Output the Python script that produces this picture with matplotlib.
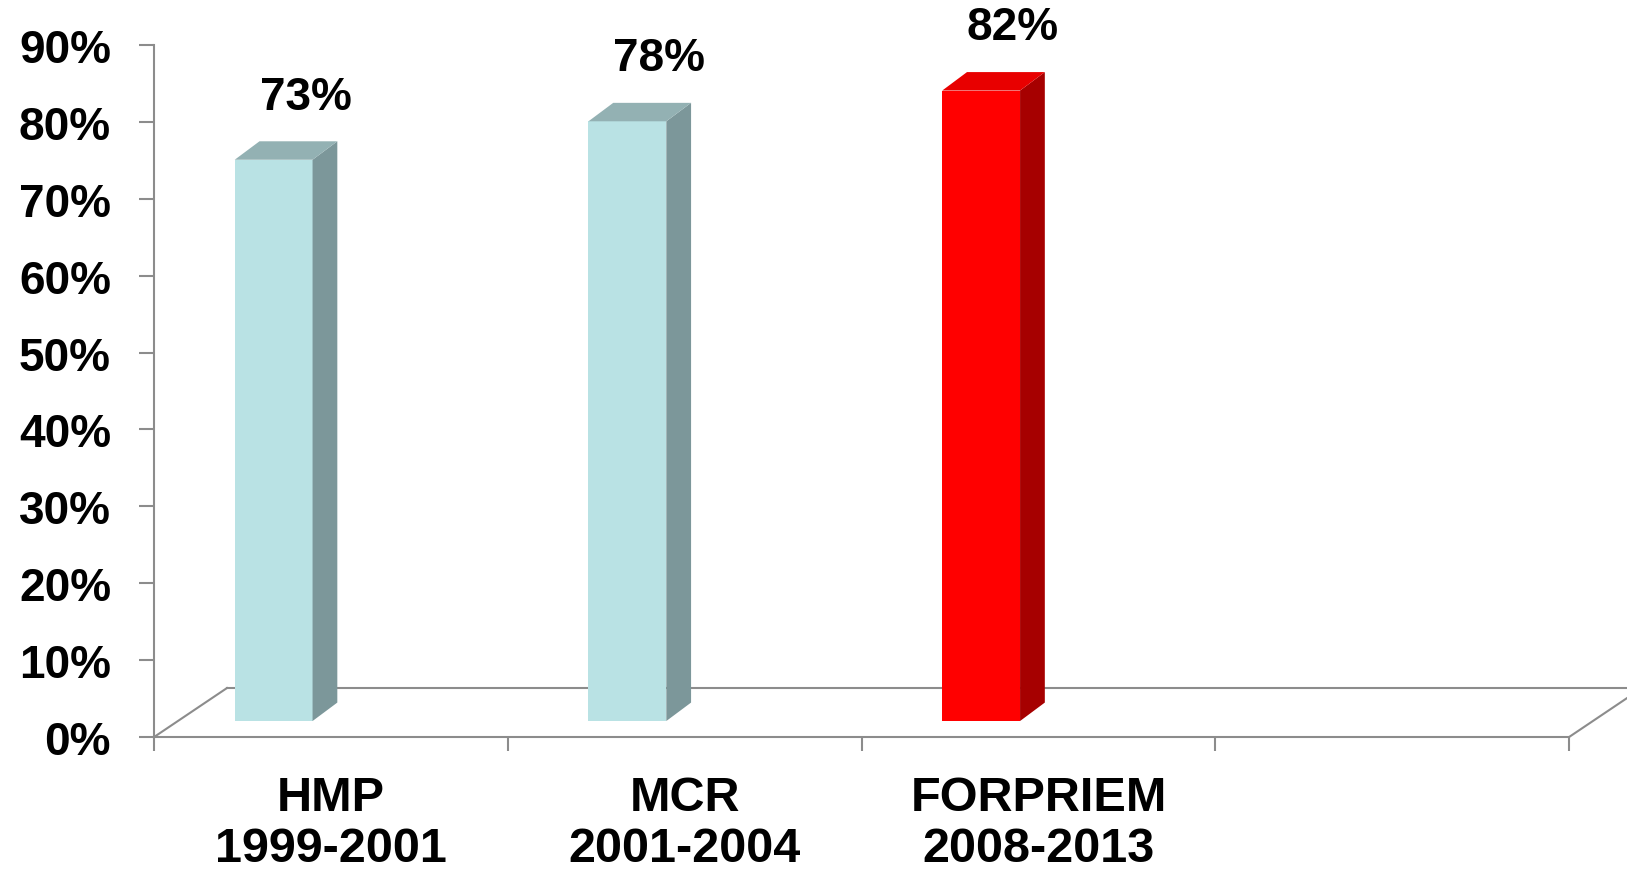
import matplotlib
matplotlib.use('Agg')
import matplotlib.pyplot as plt

# Chart data
categories = ['HMP\n1999-2001', 'MCR\n2001-2004', 'FORPRIEM\n2008-2013', '']
values = [73, 78, 82]
value_labels = ['73%', '78%', '82%']
y_ticks = [0, 10, 20, 30, 40, 50, 60, 70, 80, 90]
y_tick_labels = ['0%', '10%', '20%', '30%', '40%', '50%', '60%', '70%', '80%', '90%']

# Face colours of each bar (front, side, top)
front_colors = ['#B9E2E4', '#B9E2E4', '#FF0000']
side_colors = ['#7C979A', '#7C979A', '#A60000']
top_colors = ['#93B1B3', '#93B1B3', '#E80000']

# Pseudo-3D geometry (in data units)
BAR_OFFSET = 0.228   # left edge of bar front inside its category slot
BAR_WIDTH = 0.22
BAR_BASE = 2.08      # bars stand in the middle of the floor
BAR_DX, BAR_DY = 0.07, 2.4
FLOOR_DX, FLOOR_DY = 0.206, 6.37

AXIS_COLOR = '#8C8C8C'
FONT = ['Liberation Sans', 'DejaVu Sans']

plt.rcParams['font.family'] = FONT
plt.rcParams['font.weight'] = 'bold'

fig = plt.figure(figsize=(16.27, 8.70), dpi=100)
ax = fig.add_axes([0.0947, 0.1517, 0.8697, 0.7954])

n_slots = len(categories)

# Floor outline
ax.plot([0, FLOOR_DX], [0, FLOOR_DY], color=AXIS_COLOR, lw=1.5, clip_on=False, zorder=1)
ax.plot([FLOOR_DX, n_slots + 2 * FLOOR_DX], [FLOOR_DY, FLOOR_DY], color=AXIS_COLOR, lw=1.5,
        clip_on=False, zorder=1)
ax.plot([n_slots, n_slots + FLOOR_DX], [0, FLOOR_DY], color=AXIS_COLOR, lw=1.5, clip_on=False, zorder=1)

# Bars: front face via ax.bar, side and top faces as polygons
for i, v in enumerate(values):
    x0 = i + BAR_OFFSET
    x1 = x0 + BAR_WIDTH
    y0 = BAR_BASE
    y1 = BAR_BASE + v
    ax.bar(x0, v, width=BAR_WIDTH, bottom=y0, align='edge', color=front_colors[i],
           edgecolor='none', zorder=3)
    ax.fill([x1, x1 + BAR_DX, x1 + BAR_DX, x1], [y0, y0 + BAR_DY, y1 + BAR_DY, y1],
            color=side_colors[i], lw=0, zorder=3)
    ax.fill([x0, x0 + BAR_DX, x1 + BAR_DX, x1], [y1, y1 + BAR_DY, y1 + BAR_DY, y1],
            color=top_colors[i], lw=0, zorder=3)
    ax.text(x0 + BAR_WIDTH / 2 + 0.09, y1 + 8.2, value_labels[i], ha='center', va='center',
            fontsize=33, fontweight='bold', color='black', clip_on=False)

ax.set_xlim(0, n_slots)
ax.set_ylim(0, 90)

ax.set_yticks(y_ticks)
ax.set_yticklabels(y_tick_labels)
ax.tick_params(axis='y', direction='out', length=11, width=1.5, color=AXIS_COLOR,
               pad=20, labelsize=33)

ax.set_xticks(range(n_slots + 1))
ax.set_xticklabels([])
ax.set_xticks([i + 0.5 for i in range(n_slots)], minor=True)
ax.set_xticklabels(categories, minor=True, fontsize=35, fontweight='bold', linespacing=1.18)
ax.tick_params(axis='x', which='major', direction='out', length=10, width=1.5, color=AXIS_COLOR)
ax.tick_params(axis='x', which='minor', length=0, pad=27)

for side in ['top', 'right']:
    ax.spines[side].set_visible(False)
for side in ['left', 'bottom']:
    ax.spines[side].set_color(AXIS_COLOR)
    ax.spines[side].set_linewidth(1.5)

for lbl in ax.get_yticklabels() + ax.get_xticklabels(minor=True):
    lbl.set_fontweight('bold')

fig.savefig('out.png', dpi=100)
